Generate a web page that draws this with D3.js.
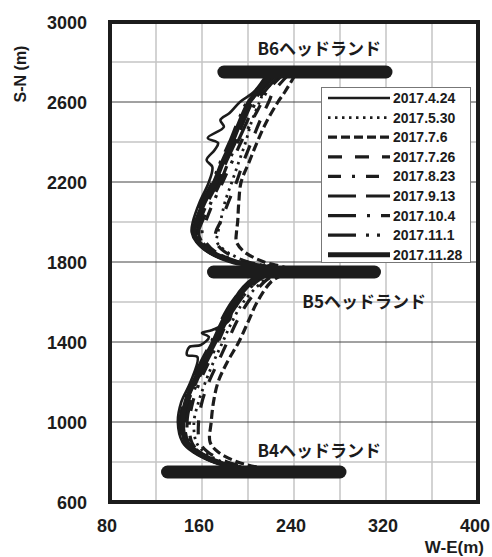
<!DOCTYPE html>
<html><head><meta charset="utf-8">
<script src="https://cdn.jsdelivr.net/npm/d3@7"></script>
<style>html,body{margin:0;padding:0;background:#fff;}svg{display:block;}</style>
</head><body>
<svg id="chart" width="492" height="557"></svg>
<script>
// ---- data ----
const xTicks = [80, 160, 240, 320, 400];
const yTicks = [600, 1000, 1400, 1800, 2200, 2600, 3000];
const seriesNames = ["2017.4.24","2017.5.30","2017.7.6","2017.7.26","2017.8.23","2017.9.13","2017.10.4","2017.11.1","2017.11.28"];
const shoreY = [2735,2650,2600,2500,2400,2300,2200,2100,2000,1950,1900,1850,1800,1765,1745,1700,1600,1500,1400,1300,1200,1100,1000,900,850,800,772];
const s0424 = [[216,2735],[205,2650],[193,2600],[184,2545],[176,2510],[179,2475],[165,2420],[174,2395],[171,2360],[164,2310],[169,2275],[166,2200],[158,2100],[152,2000],[151,1950],[155,1900],[165,1850],[186,1800],[218,1765],[213,1745],[200,1700],[187,1600],[184,1510],[169,1460],[160,1445],[166,1425],[159,1385],[149,1375],[147,1335],[156,1325],[150,1200],[142,1100],[139,1000],[143,900],[152,850],[170,800],[190,772]];
const s0530 = [228,214,210,203,198,192,186,180,176,174,173,182,200,225,222,212,196,186,178,170,163,157,153,155,162,178,198];
const s0706 = [241,232,226,216,208,201,194,192,191,190,190,197,214,234,232,220,208,200,192,182,174,170,168,167,174,191,210];
const s0726 = [235,222,218,210,203,196,190,183,176,172,172,180,200,228,225,214,200,190,182,174,166,160,157,158,165,182,202];
const s0823 = [230,216,212,203,194,186,178,170,163,160,163,172,193,222,218,207,192,182,174,166,158,152,149,151,158,175,195];
const s0913 = [224,211,204,196,189,181,174,165,158,156,160,170,191,221,217,205,190,180,172,163,155,148,145,148,157,174,194];
const s1004 = [227,214,207,199,191,183,176,168,160,157,160,171,192,222,219,207,192,181,173,164,156,150,147,149,158,176,196];
const s1101 = [219,206,199,191,184,176,169,160,154,152,156,166,187,219,213,201,186,176,168,159,151,144,141,144,153,171,191];
const s1128 = [220,208,201,193,186,178,171,162,155,153,157,167,188,220,215,203,188,178,170,161,153,146,143,146,155,172,192];
const headlandNames = ["B4ヘッドランド","B5ヘッドランド","B6ヘッドランド"];
const headlandY = [750, 1750, 2750];
const headlandX0 = [130, 170, 179];
const headlandX1 = [280, 310, 320];

// ---- styles ----
const styles = [
  {w:2.6, dash:null},
  {w:2.8, dash:"2.5,4.5"},
  {w:3.2, dash:"9,4"},
  {w:3.2, dash:"14,13"},
  {w:3.2, dash:"13,11,3,11"},
  {w:3.2, dash:"28,10"},
  {w:3.2, dash:"28,11,3,11"},
  {w:3.2, dash:"28,10,3,8,3,10"},
  {w:5, dash:null}
];
const ink = "#1c1c1c";

const svg = d3.select("#chart");
const L = 110, R = 478, T = 22, B = 502;
const x = d3.scaleLinear().domain([80, 400]).range([L, R]);
const y = d3.scaleLinear().domain([600, 3000]).range([B, T]);

// grid
const g = svg.append("g");
g.selectAll("line.vg").data(d3.range(120, 400, 40)).join("line")
  .attr("x1", d => x(d)).attr("x2", d => x(d)).attr("y1", T).attr("y2", B)
  .attr("stroke", "#c4c4c4").attr("stroke-width", 1.5);
g.selectAll("line.hg").data(d3.range(800, 3000, 200)).join("line")
  .attr("y1", d => y(d)).attr("y2", d => y(d)).attr("x1", L).attr("x2", R)
  .attr("stroke", d => yTicks.includes(d) ? "#444" : "#c4c4c4")
  .attr("stroke-width", d => yTicks.includes(d) ? 1 : 1.5);

// series
const seriesData = [
  s0424,
  s0530.map((v,i)=>[v, shoreY[i]]),
  s0706.map((v,i)=>[v, shoreY[i]]),
  s0726.map((v,i)=>[v, shoreY[i]]),
  s0823.map((v,i)=>[v, shoreY[i]]),
  s0913.map((v,i)=>[v, shoreY[i]]),
  s1004.map((v,i)=>[v, shoreY[i]]),
  s1101.map((v,i)=>[v, shoreY[i]]),
  s1128.map((v,i)=>[v, shoreY[i]])
];
const line = d3.line().x(d => x(d[0])).y(d => y(d[1])).curve(d3.curveCatmullRom.alpha(0.5));
seriesData.forEach((s, i) => {
  svg.append("path").attr("d", line(s)).attr("fill", "none")
    .attr("stroke", ink).attr("stroke-width", styles[i].w)
    .attr("stroke-dasharray", styles[i].dash)
    .attr("stroke-linejoin", "round");
});

// headlands
headlandY.forEach((hy, i) => {
  svg.append("line").attr("x1", x(headlandX0[i])).attr("x2", x(headlandX1[i]))
    .attr("y1", y(hy)).attr("y2", y(hy))
    .attr("stroke", ink).attr("stroke-width", 13).attr("stroke-linecap", "round");
});
const labelLayout = [{cx:262, dy:-15}, {cx:301, dy:36}, {cx:262, dy:-17}];
headlandNames.forEach((n, i) => {
  svg.append("text").attr("x", x(labelLayout[i].cx)).attr("y", y(headlandY[i]) + labelLayout[i].dy)
    .attr("text-anchor", "middle").attr("font-family", "'Noto Sans CJK JP', sans-serif")
    .attr("font-weight", "bold").attr("font-size", 17).attr("fill", ink).text(n);
});

// frame
svg.append("rect").attr("x", L).attr("y", T).attr("width", R - L).attr("height", B - T)
  .attr("fill", "none").attr("stroke", ink).attr("stroke-width", 4);

// ticks
const tickFont = "'Liberation Sans', Arial, sans-serif";
svg.selectAll("text.yt").data(yTicks).join("text")
  .attr("x", 87).attr("y", d => y(d) + 6.5).attr("text-anchor", "end")
  .attr("font-family", tickFont).attr("font-weight", "bold").attr("font-size", 18).attr("fill", ink)
  .text(d => d);
svg.selectAll("text.xt").data(xTicks).join("text")
  .attr("x", d => x(d) - 3).attr("y", 532).attr("text-anchor", "middle")
  .attr("font-family", tickFont).attr("font-weight", "bold").attr("font-size", 18).attr("fill", ink)
  .text(d => d);
svg.append("text").attr("x", 484).attr("y", 553).attr("text-anchor", "end")
  .attr("font-family", tickFont).attr("font-weight", "bold").attr("font-size", 17).attr("fill", ink)
  .text("W-E(m)");
svg.append("text").attr("transform", "translate(26,74) rotate(-90)").attr("text-anchor", "middle")
  .attr("font-family", tickFont).attr("font-weight", "bold").attr("font-size", 16).attr("fill", ink)
  .text("S-N (m)");

// legend
const lg = svg.append("g");
lg.append("rect").attr("x", 321.5).attr("y", 87.5).attr("width", 149).attr("height", 175)
  .attr("fill", "#fff").attr("stroke", "#777").attr("stroke-width", 1);
seriesNames.forEach((n, i) => {
  const yy = 98 + i * 19.6;
  lg.append("line").attr("x1", 328).attr("x2", 390).attr("y1", yy).attr("y2", yy)
    .attr("stroke", ink).attr("stroke-width", styles[i].w).attr("stroke-dasharray", styles[i].dash);
  lg.append("text").attr("x", 393).attr("y", yy + 5).attr("font-family", tickFont)
    .attr("font-weight", "bold").attr("font-size", 14).attr("fill", ink).text(n);
});
</script>
</body></html>
